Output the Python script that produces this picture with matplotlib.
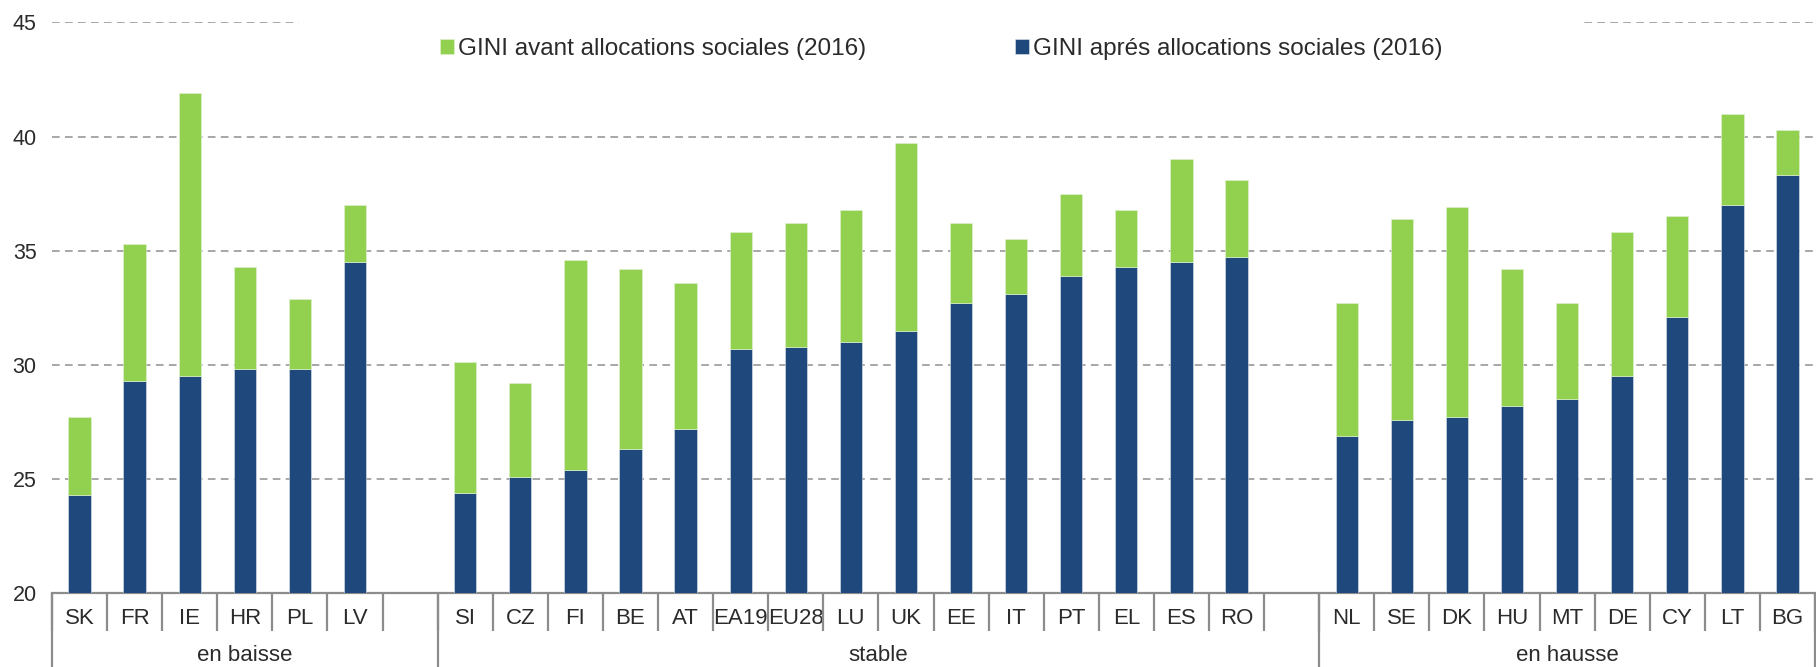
import numpy as np
import matplotlib

matplotlib.use("Agg")
import matplotlib.pyplot as plt
from matplotlib.patches import Rectangle
from matplotlib.transforms import blended_transform_factory

plt.rcParams["font.family"] = ["Liberation Sans", "DejaVu Sans"]

# Country codes per group; "" marks the empty slot Excel leaves between groups.
countries = [
    "SK", "FR", "IE", "HR", "PL", "LV", "",
    "SI", "CZ", "FI", "BE", "AT", "EA19", "EU28", "LU", "UK", "EE", "IT",
    "PT", "EL", "ES", "RO", "",
    "NL", "SE", "DK", "HU", "MT", "DE", "CY", "LT", "BG",
]
gini_avant = [
    27.7, 35.3, 41.9, 34.3, 32.9, 37.0, np.nan,
    30.1, 29.2, 34.6, 34.2, 33.6, 35.8, 36.2, 36.8, 39.7, 36.2, 35.5,
    37.5, 36.8, 39.0, 38.1, np.nan,
    32.7, 36.4, 36.9, 34.2, 32.7, 35.8, 36.5, 41.0, 40.3,
]
gini_apres = [
    24.3, 29.3, 29.5, 29.8, 29.8, 34.5, np.nan,
    24.4, 25.1, 25.4, 26.3, 27.2, 30.7, 30.8, 31.0, 31.5, 32.7, 33.1,
    33.9, 34.3, 34.5, 34.7, np.nan,
    26.9, 27.6, 27.7, 28.2, 28.5, 29.5, 32.1, 37.0, 38.3,
]
groups = ["en baisse", "stable", "en hausse"]
group_sizes = [7, 16, 9]

GREEN = "#92D050"
BLUE = "#1F497D"
GREY = "#8C8C8C"
TEXT = "#2B2B2B"

base = 20
x = np.arange(len(countries))
avant = np.array(gini_avant)
apres = np.array(gini_apres)

fig = plt.figure(figsize=(18.16, 6.67), dpi=100)
ax = fig.add_axes([52 / 1816, 74 / 667, 1763 / 1816, 570.6 / 667])

w = 0.405
ax.bar(x, apres - base, w, bottom=base, color=BLUE, edgecolor="#dfe6ef",
       linewidth=0.4, zorder=3, label="GINI aprés allocations sociales (2016)")
ax.bar(x, avant - apres, w, bottom=apres, color=GREEN, edgecolor="#e4f3d3",
       linewidth=0.4, zorder=3, label="GINI avant allocations sociales (2016)")

ax.set_xlim(-0.5, len(countries) - 0.5)
ax.set_ylim(20, 45)
ax.set_yticks(np.arange(20, 46, 5))
ax.yaxis.grid(True, linestyle=(0, (5, 3.5)), color="#8f8f8f", linewidth=1.1)
ax.set_axisbelow(True)

for s in ("left", "right", "top"):
    ax.spines[s].set_visible(False)
ax.spines["bottom"].set_color(GREY)
ax.spines["bottom"].set_linewidth(1.6)

ax.tick_params(axis="y", length=0, pad=11, labelsize=15.5, labelcolor=TEXT)
ax.set_xticks(x)
ax.set_xticklabels(countries)
ax.tick_params(axis="x", which="major", length=0, pad=11, labelsize=16,
               labelcolor=TEXT)
ax.set_xticks(np.arange(-0.5, len(countries), 1.0), minor=True)
ax.tick_params(axis="x", which="minor", length=27.5, width=1.6, color=GREY)

# Group separators and group labels below the category labels.
trans = blended_transform_factory(ax.transData, ax.transAxes)
edges = np.concatenate([[0], np.cumsum(group_sizes)]) - 0.5
ax.vlines(edges, -0.14, 0, transform=trans, colors=GREY, linewidth=1.6,
          clip_on=False)
for name, lo, hi in zip(groups, edges[:-1], edges[1:]):
    ax.text((lo + hi) / 2, -0.1087, name, transform=trans, ha="center",
            va="center", fontsize=16, color=TEXT)

# White box behind the legend that hides the top gridline (Excel style).
ax.add_patch(Rectangle(((299 - 52) / 1763, 0.975), (1581 - 299) / 1763, 0.05,
                       transform=ax.transAxes, facecolor="white",
                       edgecolor="none", zorder=1, clip_on=False))

handles, labels = ax.get_legend_handles_labels()
leg = ax.legend(handles[::-1], labels[::-1], loc="center",
                bbox_to_anchor=(0.5045, 0.953), ncol=2, frameon=False,
                fontsize=17.5, handlelength=0.58, handleheight=0.58,
                handletextpad=0.18, columnspacing=6.1, labelcolor=TEXT)

fig.savefig("out.png", dpi=100)
